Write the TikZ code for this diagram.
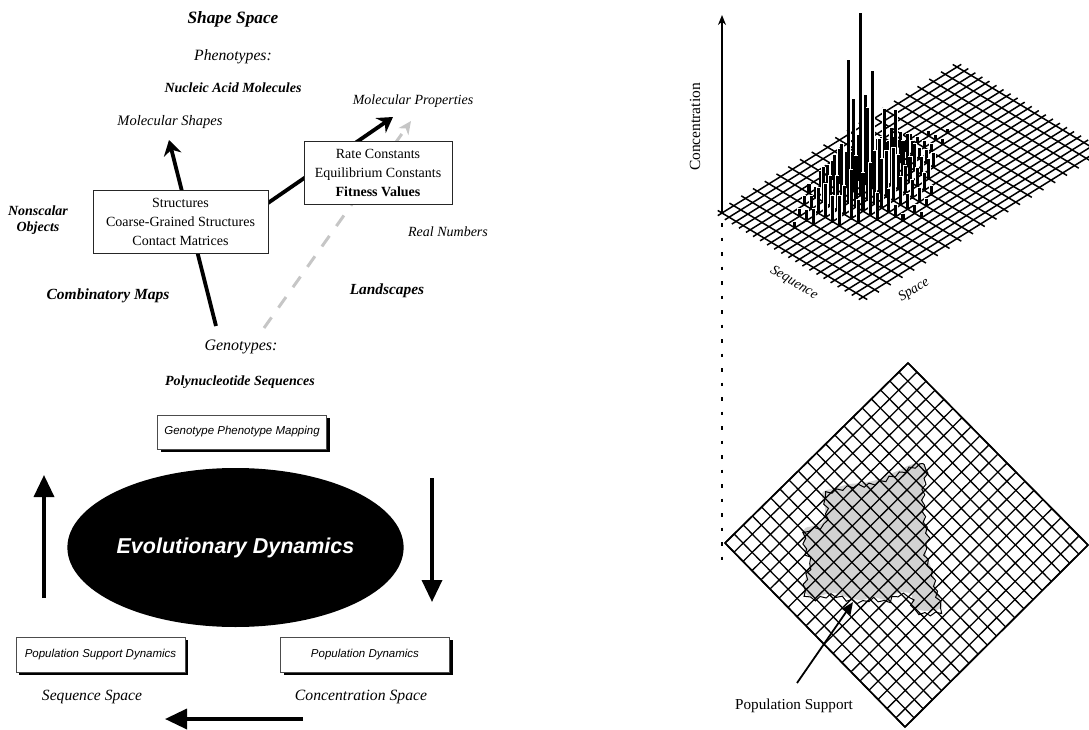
\documentclass[tikz,border=0pt]{standalone}
\usepackage{fontspec}
\setmainfont{Liberation Serif}
\setsansfont{Liberation Sans}
\usetikzlibrary{arrows.meta,shapes.geometric,calc,shadows,decorations.pathmorphing}

\begin{document}
\begin{tikzpicture}[x=1pt,y=-1pt,
  lab/.style={font=\itshape\fontsize{14.5}{17}\selectfont},
  blab/.style={font=\bfseries\itshape\fontsize{14}{17}\selectfont},
  infobox/.style={draw=black!85,line width=0.6pt,fill=white,align=center,
    font=\fontsize{14}{19}\selectfont,inner sep=0pt},
  dynbox/.style={draw=black!70,line width=0.5pt,fill=white,inner sep=0pt,
    font=\sffamily\itshape\fontsize{11.5}{14}\selectfont,
    drop shadow={shadow xshift=3pt,shadow yshift=-3pt,fill=black,opacity=1}},
  maparrow/.style={line width=3.8pt,-{Stealth[length=15pt,width=18pt,inset=5pt]}},
  landarrow/.style={line width=3pt,gray!45,dash pattern=on 13pt off 12pt,
    -{Stealth[length=13pt,width=12pt,inset=4pt]}},
  looparrow/.style={line width=3.5pt,-{Triangle[length=22pt,width=20pt]}},
  gridline/.style={line width=1.5pt},
  diamline/.style={line width=1.3pt},
]
\useasboundingbox (0,0) rectangle (1089,730);

% ---------------- shape space side ----------------
\node[blab,font=\bfseries\itshape\fontsize{17.3}{20}\selectfont] (shape) at (233,19) {Shape Space};
\node[lab,font=\itshape\fontsize{15.7}{18}\selectfont] (pheno) at (233,57) {Phenotypes:};
\node[blab] (nucleic) at (233,88) {Nucleic Acid Molecules};
\node[lab] (molshape) at (170,122) {Molecular Shapes};
\node[lab,font=\itshape\fontsize{14}{17}\selectfont] (molprop) at (413,101) {Molecular Properties};
\node[blab,align=center,font=\bfseries\itshape\fontsize{14}{16.5}\selectfont] (nonscalar) at (38,220) {Nonscalar\\Objects};
\node[lab,font=\itshape\fontsize{14}{17}\selectfont] (real) at (448,232) {Real Numbers};
\node[blab,font=\bfseries\itshape\fontsize{15.5}{18}\selectfont] (combmaps) at (108,296) {Combinatory Maps};
\node[blab,font=\bfseries\itshape\fontsize{15.4}{18}\selectfont] (landsc) at (387,291) {Landscapes};
\node[lab,font=\itshape\fontsize{16}{18}\selectfont] (geno) at (241,347) {Genotypes:};
\node[blab] (poly) at (240,382) {Polynucleotide Sequences};

\coordinate (cmfoot) at (216,326);
\coordinate (cmtip) at (169,140);
\coordinate (mpfoot) at (268,203);
\coordinate (mptip) at (393,117);
\coordinate (lsfoot) at (264,328);
\coordinate (lstip) at (411,121);

\draw[landarrow] (lsfoot) -- (lstip);
\draw[maparrow] (cmfoot) -- (cmtip);
\draw[maparrow] (mpfoot) -- (mptip);

\node[infobox,minimum width=175pt,minimum height=63pt] (structbox) at (180.5,221.5)
  {Structures\\Coarse-Grained Structures\\Contact Matrices};
\node[infobox,minimum width=148pt,minimum height=63pt] (valuebox) at (378,172.5)
  {Rate Constants\\Equilibrium Constants\\\textbf{Fitness Values}};

% ---------------- evolutionary dynamics cycle ----------------
\node[dynbox,minimum width=169pt,minimum height=34pt] (gpmap) at (242,432) {Genotype Phenotype Mapping};
\node[ellipse,fill=black,minimum width=311pt,minimum height=159pt,inner sep=0pt,
  text=white,font=\sffamily\bfseries\itshape\fontsize{21.5}{24}\selectfont] (evo) at (235.5,547.5)
  {Evolutionary Dynamics};
\node[dynbox,minimum width=169pt,minimum height=35pt] (psd) at (100.5,654.5) {Population Support Dynamics};
\node[dynbox,minimum width=169pt,minimum height=35pt] (pd) at (365,654.5) {Population Dynamics};
\node[lab,font=\itshape\fontsize{15.6}{18}\selectfont] (seqsp) at (92,697) {Sequence Space};
\node[lab,font=\itshape\fontsize{15.7}{18}\selectfont] (concsp) at (361,697) {Concentration Space};

\coordinate (upfoot) at (44,598);
\coordinate (uptip) at (44,475);
\coordinate (dnfoot) at (432,478);
\coordinate (dntip) at (432,602);
\coordinate (lffoot) at (303,719);
\coordinate (lftip) at (165,719);
\draw[looparrow] (upfoot) -- (uptip);
\draw[looparrow] (dnfoot) -- (dntip);
\draw[looparrow] (lffoot) -- (lftip);

% ---------------- concentration over sequence space ----------------
\coordinate (O) at (722,213);
\coordinate (F) at (863,297);
\coordinate (K) at (957,67);
\coordinate (R3) at (1098,151);
\coordinate (axtip) at (722,15);
\draw[line width=1.5pt,-{Stealth[length=10pt,width=8pt]}] (O) -- (axtip);
\node[font=\fontsize{15.5}{18}\selectfont,rotate=90] (conclab) at (695,127) {Concentration};

\foreach \k in {0,...,20}{
  \path ($(O)!\k/20!(F)$) coordinate (ga) ($(K)!\k/20!(R3)$) coordinate (gb);
  \draw[gridline] ($(ga)!-5pt!(gb)$) -- ($(gb)!-5pt!(ga)$);
  \path ($(O)!\k/20!(K)$) coordinate (gc) ($(F)!\k/20!(R3)$) coordinate (gd);
  \draw[gridline] ($(gc)!-5pt!(gd)$) -- ($(gd)!-5pt!(gc)$);
}

% concentration spikes, drawn from the back row to the front row
\pgfmathsetseed{11}
\foreach \j/\ia/\ib in {15/7/7,14/6/8,13/5/8,12/5/10,11/4/11,10/4/13,9/3/14,
                        8/3/15,7/4/14,6/4/12,5/4/11,4/5/10,3/6/8,2/7/7}{
  \foreach \i in {\ia,...,\ib}{
    \pgfmathsetmacro\bx{722+7.05*\i+11.75*\j}
    \pgfmathsetmacro\by{213+4.2*\i-7.3*\j}
    \pgfmathsetmacro\h{(\i==8 && \j==7) ? 182 : ((\i==8 && \j==6) ? 143 :
      ((\i==8 && \j==8) ? 117 : ((\i==7 && \j==7) ? 92 : ((\i==9 && \j==7) ? 92 :
      4+95*exp(-((\i-8.5)^2+(\j-7.5)^2)/10)*(0.45+0.8*rnd)))))}
    \draw[white,line width=4.2pt] (\bx,\by-2.5) -- (\bx,\by-\h-1);
    \draw[black,line width=3.1pt] (\bx,\by+1) -- (\bx,\by-\h);
  }
}

\node[font=\itshape\fontsize{14}{16}\selectfont,rotate=-31] (seqlab) at (794,283) {Sequence};
\node[font=\itshape\fontsize{14}{16}\selectfont,rotate=32] (spacelab) at (914,290) {Space};

\coordinate (dotA) at (722,223);
\coordinate (dotB) at (722,565);
\draw[line width=2.2pt,dash pattern=on 3.5pt off 11pt] (dotA) -- (dotB);

% ---------------- population support in sequence space ----------------
\coordinate (DL) at (725,543);
\coordinate (DT) at (908,363);
\coordinate (DB) at (905,727);
\coordinate (DR) at (1088,545);

\def\blobpath{(920,463) (926,470) (923,490) (924,517) (928,537) (925,550) (933,573)
  (937,593) (942,607) (928,611) (913,607) (911,594) (897,593) (887,600) (873,597)
  (862,600) (849,598) (833,593) (813,597) (804,590) (807,573) (811,560) (805,550)
  (804,530) (813,526) (823,522) (825,508) (822,493) (835,488) (850,484) (863,483)
  (880,479) (890,474) (900,470) (910,465)}
\fill[gray!35] plot[smooth cycle,tension=0.6] coordinates \blobpath;

\foreach \k in {0,...,20}{
  \draw[diamline] ($(DL)!\k/20!(DB)$) -- ($(DT)!\k/20!(DR)$);
  \draw[diamline] ($(DL)!\k/20!(DT)$) -- ($(DB)!\k/20!(DR)$);
}
\draw[line width=1.7pt] (DL) -- (DT) -- (DR) -- (DB) -- cycle;

\draw[line width=1pt,decorate,decoration={snake,amplitude=1.6pt,segment length=11pt}]
  plot[smooth cycle,tension=0.6] coordinates \blobpath;

\coordinate (psfoot) at (797,683);
\coordinate (pstip) at (853,602);
\draw[line width=1.8pt,-{Triangle[length=12pt,width=10pt]}] (psfoot) -- (pstip);
\node[font=\fontsize{15.2}{18}\selectfont] (pslab) at (794,706) {Population Support};

\end{tikzpicture}
\end{document}
